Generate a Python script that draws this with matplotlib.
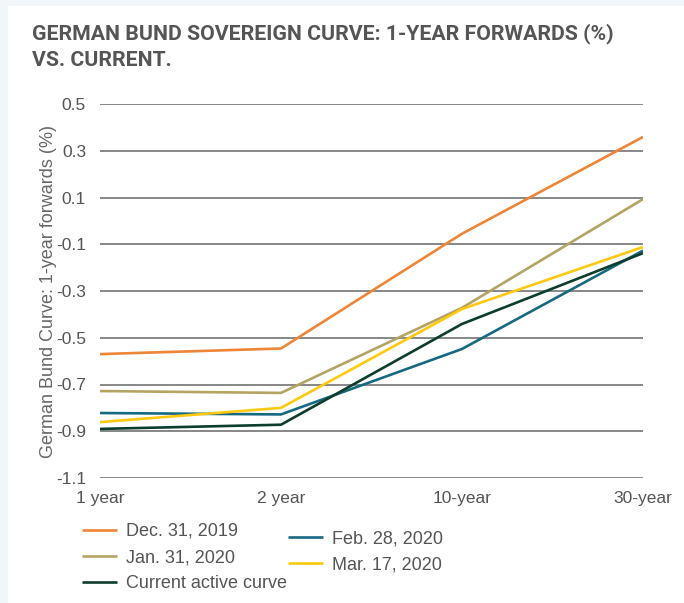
import matplotlib
matplotlib.use("Agg")
import matplotlib.pyplot as plt
from matplotlib.patches import Rectangle

# ---- data ----
tenors = ["1 year", "2 year", "10-year", "30-year"]
dec_2019 = [-0.57, -0.546, -0.055, 0.359]
jan_2020 = [-0.728, -0.736, -0.372, 0.093]
feb_2020 = [-0.822, -0.828, -0.548, -0.127]
mar_2020 = [-0.861, -0.800, -0.377, -0.112]
current = [-0.890, -0.872, -0.441, -0.138]
y_ticks = [0.5, 0.3, 0.1, -0.1, -0.3, -0.5, -0.7, -0.9, -1.1]

title_lines = ["GERMAN BUND SOVEREIGN CURVE: 1-YEAR FORWARDS (%)", "VS. CURRENT."]
series_labels = ["Dec. 31, 2019", "Jan. 31, 2020", "Feb. 28, 2020", "Mar. 17, 2020", "Current active curve"]
series_colors = ["#ef8537", "#b4a463", "#156981", "#fec90f", "#0d3d2d"]

W, H = 684, 603
fig = plt.figure(figsize=(W / 100, H / 100), dpi=100, facecolor="#f1f6f9")
fig.patches.append(Rectangle((8 / W, 0), 1 - 8 / W, 1 - 6 / H, transform=fig.transFigure,
                             facecolor="white", edgecolor="none", zorder=-10))

ax = fig.add_axes([100 / W, (H - 478) / H, (643 - 100) / W, (478 - 104) / H])
ax.set_facecolor("white")
for s in ax.spines.values():
    s.set_visible(False)

x = list(range(len(tenors)))
lines = []
for vals, lab, col in zip([dec_2019, jan_2020, feb_2020, mar_2020, current], series_labels, series_colors):
    ln, = ax.plot(x, vals, color=col, lw=1.9, label=lab, solid_capstyle="butt", zorder=3)
    lines.append(ln)

ax.set_xlim(0, 3)
ax.set_ylim(-1.1, 0.5)
ax.set_yticks(y_ticks)
ax.set_yticklabels([f"{v:.1f}" for v in y_ticks])
ax.set_xticks(x)
ax.set_xticklabels(tenors)
ax.yaxis.grid(True, color="#737373", lw=1.2, zorder=1)
ax.tick_params(axis="both", length=0, labelsize=12.5, colors="#555555", labelfontfamily="Liberation Sans")
ax.tick_params(axis="y", pad=10)
ax.tick_params(axis="x", pad=9)
ax.set_ylabel("German Bund Curve: 1-year forwards (%)", fontsize=13, color="#666666",
              family="Liberation Sans", labelpad=-1)

for tl, base in zip(title_lines, [39, 66]):
    fig.text(32 / W, 1 - base / H, tl, ha="left", va="baseline", fontsize=15.3,
             fontweight="bold", color="#555555", family="Roboto")

leg_kw = dict(frameon=False, handlelength=1.95, handletextpad=0.5,
              labelspacing=0.5, borderpad=0, borderaxespad=0,
              prop={"family": "Liberation Sans", "size": 13})
leg1 = fig.legend([lines[0], lines[1], lines[4]], [series_labels[0], series_labels[1], series_labels[4]],
                  loc="upper left", bbox_to_anchor=(82 / W, 1 - 523 / H), **leg_kw)
leg2 = fig.legend([lines[2], lines[3]], [series_labels[2], series_labels[3]],
                  loc="upper left", bbox_to_anchor=(288 / W, 1 - 530 / H), **leg_kw)
for lg in (leg1, leg2):
    for t in lg.get_texts():
        t.set_color("#555555")

fig.savefig("out.png", dpi=100, facecolor=fig.get_facecolor())
